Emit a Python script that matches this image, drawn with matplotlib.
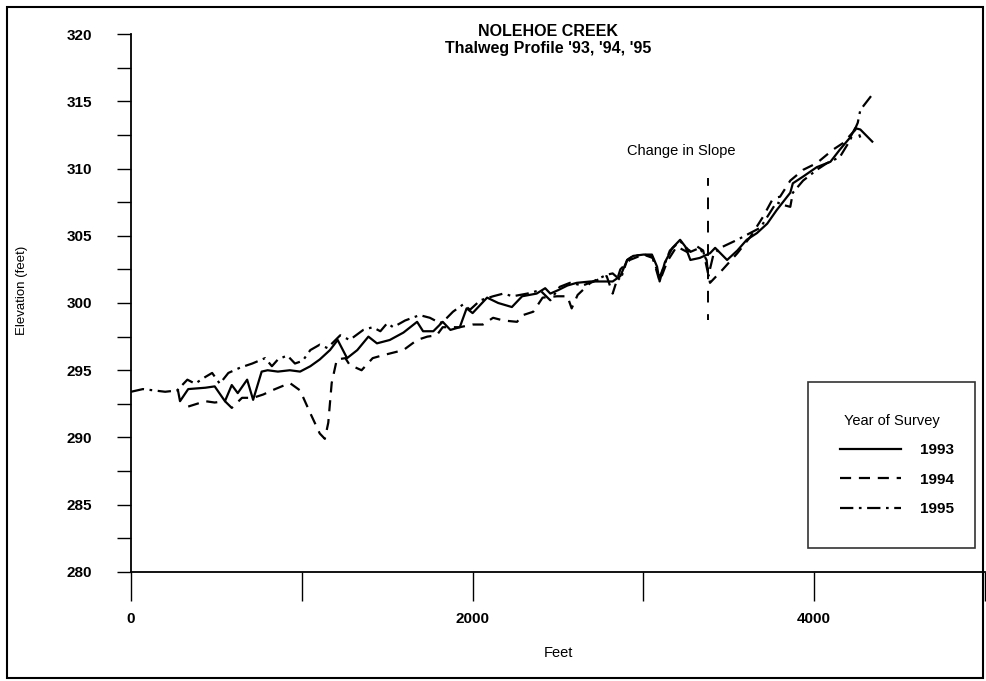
import matplotlib
matplotlib.use('Agg')
import matplotlib.pyplot as plt
from matplotlib.patches import Rectangle

plt.rcParams['font.family'] = ['Liberation Sans', 'DejaVu Sans']

# 1993 survey (solid)
feet_93 = [275, 287, 335, 435, 490, 550, 590, 625, 680, 715, 765, 800, 860, 930, 990,
           1050, 1105, 1165, 1210, 1265, 1325, 1390, 1440, 1515, 1595, 1675, 1710, 1770,
           1825, 1870, 1925, 1965, 2000, 2085, 2150, 2230, 2290, 2375, 2425, 2455, 2500,
           2555, 2610, 2690, 2820, 2865, 2905, 2940, 3000, 3050, 3080, 3095, 3125, 3170,
           3215, 3245, 3275, 3330, 3390, 3420, 3490, 3550, 3605, 3665, 3725, 3780, 3860,
           3875, 3935, 4015, 4095, 4150, 4210, 4240, 4270, 4340]
elev_93 = [293.5, 292.7, 293.6, 293.7, 293.8, 292.7, 293.9, 293.3, 294.3, 292.8, 294.9,
           295.0, 294.9, 295.0, 294.9, 295.3, 295.8, 296.5, 297.25, 295.9, 296.5, 297.5,
           297.0, 297.25, 297.8, 298.6, 297.9, 297.9, 298.6, 298.0, 298.2, 299.6, 299.25,
           300.4, 300.0, 299.7, 300.5, 300.7, 301.1, 300.7, 300.95, 301.3, 301.5, 301.6,
           301.6, 302.0, 303.2, 303.5, 303.6, 303.6, 302.7, 301.6, 303.0, 304.1, 304.7,
           304.2, 303.2, 303.35, 303.7, 304.1, 303.2, 303.9, 304.7, 305.2, 305.9, 306.9,
           308.2, 308.9, 309.4, 310.1, 310.5, 311.4, 312.3, 313.0, 312.9, 312.0]

# 1994 survey (dashed)
feet_94 = [335, 435, 490, 550, 590, 650, 715, 775, 825, 930, 990, 1050, 1105, 1135, 1155,
           1175, 1205, 1255, 1280, 1350, 1415, 1470, 1595, 1675, 1735, 1790, 1825, 1870,
           1925, 2000, 2060, 2120, 2180, 2260, 2295, 2355, 2410, 2495, 2555, 2580, 2615,
           2690, 2785, 2820, 2865, 2920, 3000, 3055, 3095, 3140, 3195, 3255, 3315, 3350,
           3390, 3465, 3550, 3625, 3700, 3760, 3800, 3860, 3935, 4015, 4110, 4170, 4220,
           4250, 4270]
elev_94 = [292.3, 292.7, 292.6, 292.7, 292.2, 292.95, 292.95, 293.2, 293.5, 294.05, 293.5,
           291.8, 290.3, 289.9, 291.1, 294.05, 295.8, 295.9, 295.4, 295.0, 295.9, 296.1,
           296.5, 297.25, 297.5, 297.6, 298.2, 298.2, 298.2, 298.4, 298.4, 298.9, 298.7,
           298.6, 299.1, 299.35, 300.4, 300.5, 300.5, 299.6, 300.6, 301.5, 302.0, 300.7,
           302.5, 303.2, 303.6, 303.35, 301.6, 303.1, 304.2, 303.8, 304.2, 303.9, 301.5,
           302.5, 303.7, 304.9, 306.4, 307.8, 307.9, 309.1, 309.9, 310.4, 311.4, 311.9,
           312.6, 313.0, 312.3]

# 1995 survey (dash-dot)
feet_95 = [0, 70, 200, 270, 330, 375, 435, 475, 520, 570, 640, 710, 785, 825, 860, 915,
           960, 1005, 1050, 1105, 1150, 1225, 1280, 1360, 1415, 1460, 1500, 1535, 1605,
           1690, 1750, 1810, 1850, 1885, 1945, 1985, 2045, 2120, 2180, 2235, 2320, 2395,
           2455, 2510, 2570, 2645, 2705, 2785, 2820, 2865, 2905, 2940, 3000, 3050, 3095,
           3155, 3215, 3275, 3330, 3370, 3380, 3410, 3450, 3550, 3625, 3685, 3740, 3780,
           3815, 3860, 3875, 3935, 4015, 4075, 4150, 4210, 4255, 4270, 4340]
elev_95 = [293.4, 293.6, 293.4, 293.5, 294.3, 294.0, 294.5, 294.8, 294.0, 294.8, 295.2,
           295.5, 295.9, 295.3, 295.8, 296.1, 295.5, 295.7, 296.5, 296.9, 296.65, 297.6,
           297.25, 298.0, 298.2, 297.9, 298.5, 298.2, 298.7, 299.1, 298.9, 298.5, 298.9,
           299.35, 299.9, 299.5, 300.2, 300.5, 300.7, 300.5, 300.7, 300.95, 300.2, 301.2,
           301.5, 301.3, 301.6, 302.1, 302.2, 301.7, 303.2, 303.5, 303.6, 303.5, 301.9,
           303.9, 304.6, 303.8, 304.1, 303.2, 302.0, 303.6, 304.1, 304.7, 305.2, 305.6,
           306.7, 307.5, 307.3, 307.15, 308.2, 309.1, 309.9, 310.4, 310.85, 312.1, 313.4,
           314.35, 315.5]

slope_change_ft = 3378
slope_line = [298.7, 309.3]

fig = plt.figure(figsize=(9.87, 6.81), dpi=100)
W, H = 987, 681
ax = fig.add_axes([131 / W, 1 - 572 / H, (985 - 131) / W, (572 - 34) / H])

ax.plot(feet_93, elev_93, color='black', lw=1.6, ls='-', label='1993')
ax.plot(feet_94, elev_94, color='black', lw=1.6, ls=(0, (5, 3.5)), label='1994')
ax.plot(feet_95, elev_95, color='black', lw=1.6, ls=(0, (6, 2.5, 1.2, 2.5)), label='1995')

# "change in slope" marker
ax.plot([slope_change_ft, slope_change_ft], slope_line, color='black', lw=1.4,
        ls=(3, (6, 6)))
ax.text(3220, 311.3, 'Change in Slope', ha='center', va='center', fontsize=10.5)

ax.set_xlim(0, 5000)
ax.set_ylim(280, 320)
for s in ['top', 'right']:
    ax.spines[s].set_visible(False)
ax.spines['left'].set_linewidth(1.3)
ax.spines['bottom'].set_linewidth(1.3)

ax.set_xticks([0, 1000, 2000, 3000, 4000, 5000])
ax.set_xticklabels(['0', '', '2000', '', '4000', ''])
ax.set_yticks([280, 285, 290, 295, 300, 305, 310, 315, 320])
ax.set_yticks([282.5, 287.5, 292.5, 297.5, 302.5, 307.5, 312.5, 317.5], minor=True)
ax.tick_params(axis='x', direction='out', length=21, width=1, pad=8, labelsize=11)
ax.tick_params(axis='y', which='major', direction='out', length=10, width=1, pad=18,
               labelsize=11)
ax.tick_params(axis='y', which='minor', direction='out', length=10, width=1)
for lab in ax.get_xticklabels() + ax.get_yticklabels():
    lab.set_fontweight('bold')

ax.set_xlabel('Feet', fontsize=10.5, labelpad=14)
fig.text(22 / W, 1 - 290 / H, 'Elevation (feet)', rotation=90, ha='center', va='center',
         fontsize=9.5)

fig.text(548 / W, 1 - 31 / H, 'NOLEHOE CREEK', ha='center', va='center',
         fontsize=11.5, fontweight='bold')
fig.text(548 / W, 1 - 48 / H, "Thalweg Profile '93, '94, '95", ha='center', va='center',
         fontsize=11.5, fontweight='bold')

leg = ax.legend(title='Year of Survey', loc='lower left',
                bbox_to_anchor=((808 - 131) / 854, (572 - 548) / 538, 167 / 854, 0.3),
                mode='expand', fancybox=False, frameon=True, edgecolor='black',
                fontsize=11, title_fontsize=10.5, handlelength=4.0, handletextpad=1.2,
                labelspacing=1.0, borderpad=2.1, borderaxespad=0)
leg.get_frame().set_linewidth(1.2)
for t in leg.get_texts():
    t.set_fontweight('bold')
leg._legend_box.align = 'center'

# border around whole figure
fig.patches.append(Rectangle((7 / W, 3 / H), (983 - 7) / W, (674 - 3) / H,
                             transform=fig.transFigure, fill=False, edgecolor='black',
                             lw=1.5))

fig.savefig('out.png', dpi=100)
